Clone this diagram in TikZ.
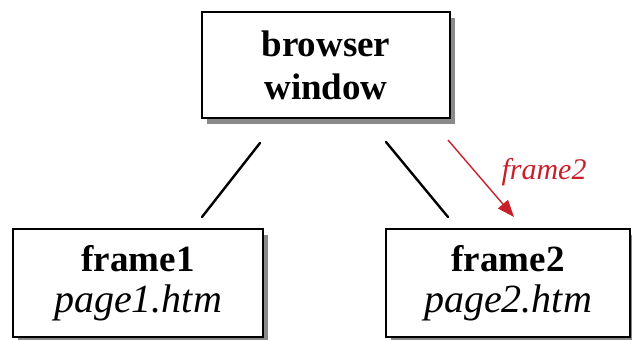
\documentclass[tikz,border=0pt]{standalone}
\usepackage{fontspec}
\setmainfont{Liberation Serif}
\usetikzlibrary{arrows.meta,shadows}
\definecolor{linkred}{HTML}{C8202A}
\definecolor{shadowgray}{HTML}{8A8A8A}
\newcommand{\pagefont}{\fontsize{40}{43}\selectfont\itshape}
\tikzset{
  framebox/.style={draw=black, line width=1.6pt, fill=white, rectangle,
    align=center, inner sep=0pt,
    font=\fontsize{37}{43}\selectfont,
    drop shadow={shadow xshift=5pt, shadow yshift=-6pt, fill=shadowgray, opacity=1}},
  joinline/.style={line width=2.4pt, line cap=round},
  namearrow/.style={draw=linkred, line width=1.4pt, -{Triangle[length=17pt,width=13pt]}},
}
\begin{document}
\begin{tikzpicture}[x=1pt,y=-1pt]
  \useasboundingbox (0,0) rectangle (632,340);

  % the window and its two frames
  \node[framebox, minimum width=248pt, minimum height=106pt] (win) at (326,65)
    {\textbf{browser}\\\textbf{window}};
  \node[framebox, minimum width=250pt, minimum height=108pt] (f1) at (138,283)
    {\textbf{frame1}\\[-2pt]{\pagefont page1.htm}};
  \node[framebox, minimum width=244pt, minimum height=108pt] (f2) at (508,283)
    {\textbf{frame2}\\[-2pt]{\pagefont page2.htm}};

  % connector end points
  \coordinate (l1) at (260,143);
  \coordinate (l2) at (202,217);
  \coordinate (r1) at (386,142);
  \coordinate (r2) at (448,217);
  \coordinate (a1) at (448,140);
  \coordinate (a2) at (514,217);

  \draw[joinline] (l1) -- (l2);
  \draw[joinline] (r1) -- (r2);
  \draw[namearrow] (a1) -- (a2);
  \node[text=linkred, font=\fontsize{30}{34}\selectfont\itshape, anchor=base] (lbl)
    at (544,179) {frame2};
\end{tikzpicture}
\end{document}
